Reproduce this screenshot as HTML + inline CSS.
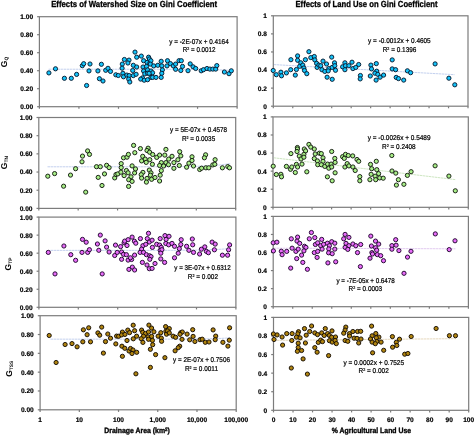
<!DOCTYPE html>
<html><head><meta charset="utf-8"><style>
html,body{margin:0;padding:0;background:#fff;width:475px;height:435px;overflow:hidden}
svg{display:block;will-change:transform}
text{font-family:"Liberation Sans", sans-serif;text-rendering:geometricPrecision}
</style></head><body>
<svg width="475" height="435" viewBox="0 0 475 435">
<rect x="39.4" y="16.7" width="197.70" height="90.00" fill="none" stroke="#7c7c7c" stroke-width="1.2"/>
<line x1="37.1" y1="16.70" x2="39.4" y2="16.70" stroke="#7c7c7c" stroke-width="1.2"/>
<line x1="37.1" y1="34.70" x2="39.4" y2="34.70" stroke="#7c7c7c" stroke-width="1.2"/>
<line x1="37.1" y1="52.70" x2="39.4" y2="52.70" stroke="#7c7c7c" stroke-width="1.2"/>
<line x1="37.1" y1="70.70" x2="39.4" y2="70.70" stroke="#7c7c7c" stroke-width="1.2"/>
<line x1="37.1" y1="88.70" x2="39.4" y2="88.70" stroke="#7c7c7c" stroke-width="1.2"/>
<line x1="37.1" y1="106.70" x2="39.4" y2="106.70" stroke="#7c7c7c" stroke-width="1.2"/>
<line x1="39.40" y1="106.7" x2="39.40" y2="108.8" stroke="#7c7c7c" stroke-width="1.2"/>
<line x1="78.94" y1="106.7" x2="78.94" y2="108.8" stroke="#7c7c7c" stroke-width="1.2"/>
<line x1="118.48" y1="106.7" x2="118.48" y2="108.8" stroke="#7c7c7c" stroke-width="1.2"/>
<line x1="158.02" y1="106.7" x2="158.02" y2="108.8" stroke="#7c7c7c" stroke-width="1.2"/>
<line x1="197.56" y1="106.7" x2="197.56" y2="108.8" stroke="#7c7c7c" stroke-width="1.2"/>
<line x1="237.10" y1="106.7" x2="237.10" y2="108.8" stroke="#7c7c7c" stroke-width="1.2"/>
<text x="33.10" y="19.10" text-anchor="end" font-size="6.6" font-weight="bold" stroke="#000" stroke-width="0.2">1.00</text>
<text x="33.10" y="37.10" text-anchor="end" font-size="6.6" font-weight="bold" stroke="#000" stroke-width="0.2">0.80</text>
<text x="33.10" y="55.10" text-anchor="end" font-size="6.6" font-weight="bold" stroke="#000" stroke-width="0.2">0.60</text>
<text x="33.10" y="73.10" text-anchor="end" font-size="6.6" font-weight="bold" stroke="#000" stroke-width="0.2">0.40</text>
<text x="33.10" y="91.10" text-anchor="end" font-size="6.6" font-weight="bold" stroke="#000" stroke-width="0.2">0.20</text>
<text x="33.10" y="109.10" text-anchor="end" font-size="6.6" font-weight="bold" stroke="#000" stroke-width="0.2">0.00</text>
<rect x="38.8" y="117.5" width="196.90" height="90.90" fill="none" stroke="#7c7c7c" stroke-width="1.2"/>
<line x1="36.5" y1="117.50" x2="38.8" y2="117.50" stroke="#7c7c7c" stroke-width="1.2"/>
<line x1="36.5" y1="135.68" x2="38.8" y2="135.68" stroke="#7c7c7c" stroke-width="1.2"/>
<line x1="36.5" y1="153.86" x2="38.8" y2="153.86" stroke="#7c7c7c" stroke-width="1.2"/>
<line x1="36.5" y1="172.04" x2="38.8" y2="172.04" stroke="#7c7c7c" stroke-width="1.2"/>
<line x1="36.5" y1="190.22" x2="38.8" y2="190.22" stroke="#7c7c7c" stroke-width="1.2"/>
<line x1="36.5" y1="208.40" x2="38.8" y2="208.40" stroke="#7c7c7c" stroke-width="1.2"/>
<line x1="38.80" y1="208.4" x2="38.80" y2="210.5" stroke="#7c7c7c" stroke-width="1.2"/>
<line x1="78.18" y1="208.4" x2="78.18" y2="210.5" stroke="#7c7c7c" stroke-width="1.2"/>
<line x1="117.56" y1="208.4" x2="117.56" y2="210.5" stroke="#7c7c7c" stroke-width="1.2"/>
<line x1="156.94" y1="208.4" x2="156.94" y2="210.5" stroke="#7c7c7c" stroke-width="1.2"/>
<line x1="196.32" y1="208.4" x2="196.32" y2="210.5" stroke="#7c7c7c" stroke-width="1.2"/>
<line x1="235.70" y1="208.4" x2="235.70" y2="210.5" stroke="#7c7c7c" stroke-width="1.2"/>
<text x="32.50" y="119.90" text-anchor="end" font-size="6.6" font-weight="bold" stroke="#000" stroke-width="0.2">1.00</text>
<text x="32.50" y="138.08" text-anchor="end" font-size="6.6" font-weight="bold" stroke="#000" stroke-width="0.2">0.80</text>
<text x="32.50" y="156.26" text-anchor="end" font-size="6.6" font-weight="bold" stroke="#000" stroke-width="0.2">0.60</text>
<text x="32.50" y="174.44" text-anchor="end" font-size="6.6" font-weight="bold" stroke="#000" stroke-width="0.2">0.40</text>
<text x="32.50" y="192.62" text-anchor="end" font-size="6.6" font-weight="bold" stroke="#000" stroke-width="0.2">0.20</text>
<text x="32.50" y="210.80" text-anchor="end" font-size="6.6" font-weight="bold" stroke="#000" stroke-width="0.2">0.00</text>
<rect x="38.9" y="217.1" width="197.00" height="90.20" fill="none" stroke="#7c7c7c" stroke-width="1.2"/>
<line x1="36.6" y1="217.10" x2="38.9" y2="217.10" stroke="#7c7c7c" stroke-width="1.2"/>
<line x1="36.6" y1="235.14" x2="38.9" y2="235.14" stroke="#7c7c7c" stroke-width="1.2"/>
<line x1="36.6" y1="253.18" x2="38.9" y2="253.18" stroke="#7c7c7c" stroke-width="1.2"/>
<line x1="36.6" y1="271.22" x2="38.9" y2="271.22" stroke="#7c7c7c" stroke-width="1.2"/>
<line x1="36.6" y1="289.26" x2="38.9" y2="289.26" stroke="#7c7c7c" stroke-width="1.2"/>
<line x1="36.6" y1="307.30" x2="38.9" y2="307.30" stroke="#7c7c7c" stroke-width="1.2"/>
<line x1="38.90" y1="307.3" x2="38.90" y2="309.40000000000003" stroke="#7c7c7c" stroke-width="1.2"/>
<line x1="78.30" y1="307.3" x2="78.30" y2="309.40000000000003" stroke="#7c7c7c" stroke-width="1.2"/>
<line x1="117.70" y1="307.3" x2="117.70" y2="309.40000000000003" stroke="#7c7c7c" stroke-width="1.2"/>
<line x1="157.10" y1="307.3" x2="157.10" y2="309.40000000000003" stroke="#7c7c7c" stroke-width="1.2"/>
<line x1="196.50" y1="307.3" x2="196.50" y2="309.40000000000003" stroke="#7c7c7c" stroke-width="1.2"/>
<line x1="235.90" y1="307.3" x2="235.90" y2="309.40000000000003" stroke="#7c7c7c" stroke-width="1.2"/>
<text x="32.60" y="219.50" text-anchor="end" font-size="6.6" font-weight="bold" stroke="#000" stroke-width="0.2">1.00</text>
<text x="32.60" y="237.54" text-anchor="end" font-size="6.6" font-weight="bold" stroke="#000" stroke-width="0.2">0.80</text>
<text x="32.60" y="255.58" text-anchor="end" font-size="6.6" font-weight="bold" stroke="#000" stroke-width="0.2">0.60</text>
<text x="32.60" y="273.62" text-anchor="end" font-size="6.6" font-weight="bold" stroke="#000" stroke-width="0.2">0.40</text>
<text x="32.60" y="291.66" text-anchor="end" font-size="6.6" font-weight="bold" stroke="#000" stroke-width="0.2">0.20</text>
<text x="32.60" y="309.70" text-anchor="end" font-size="6.6" font-weight="bold" stroke="#000" stroke-width="0.2">0.00</text>
<rect x="40.1" y="315.7" width="196.10" height="94.10" fill="none" stroke="#7c7c7c" stroke-width="1.2"/>
<line x1="37.800000000000004" y1="315.70" x2="40.1" y2="315.70" stroke="#7c7c7c" stroke-width="1.2"/>
<line x1="37.800000000000004" y1="334.52" x2="40.1" y2="334.52" stroke="#7c7c7c" stroke-width="1.2"/>
<line x1="37.800000000000004" y1="353.34" x2="40.1" y2="353.34" stroke="#7c7c7c" stroke-width="1.2"/>
<line x1="37.800000000000004" y1="372.16" x2="40.1" y2="372.16" stroke="#7c7c7c" stroke-width="1.2"/>
<line x1="37.800000000000004" y1="390.98" x2="40.1" y2="390.98" stroke="#7c7c7c" stroke-width="1.2"/>
<line x1="37.800000000000004" y1="409.80" x2="40.1" y2="409.80" stroke="#7c7c7c" stroke-width="1.2"/>
<line x1="40.10" y1="409.8" x2="40.10" y2="411.90000000000003" stroke="#7c7c7c" stroke-width="1.2"/>
<line x1="79.32" y1="409.8" x2="79.32" y2="411.90000000000003" stroke="#7c7c7c" stroke-width="1.2"/>
<line x1="118.54" y1="409.8" x2="118.54" y2="411.90000000000003" stroke="#7c7c7c" stroke-width="1.2"/>
<line x1="157.76" y1="409.8" x2="157.76" y2="411.90000000000003" stroke="#7c7c7c" stroke-width="1.2"/>
<line x1="196.98" y1="409.8" x2="196.98" y2="411.90000000000003" stroke="#7c7c7c" stroke-width="1.2"/>
<line x1="236.20" y1="409.8" x2="236.20" y2="411.90000000000003" stroke="#7c7c7c" stroke-width="1.2"/>
<text x="33.80" y="318.10" text-anchor="end" font-size="6.6" font-weight="bold" stroke="#000" stroke-width="0.2">1.00</text>
<text x="33.80" y="336.92" text-anchor="end" font-size="6.6" font-weight="bold" stroke="#000" stroke-width="0.2">0.80</text>
<text x="33.80" y="355.74" text-anchor="end" font-size="6.6" font-weight="bold" stroke="#000" stroke-width="0.2">0.60</text>
<text x="33.80" y="374.56" text-anchor="end" font-size="6.6" font-weight="bold" stroke="#000" stroke-width="0.2">0.40</text>
<text x="33.80" y="393.38" text-anchor="end" font-size="6.6" font-weight="bold" stroke="#000" stroke-width="0.2">0.20</text>
<text x="33.80" y="412.20" text-anchor="end" font-size="6.6" font-weight="bold" stroke="#000" stroke-width="0.2">0.00</text>
<rect x="273.3" y="15.8" width="194.70" height="90.40" fill="none" stroke="#7c7c7c" stroke-width="1.2"/>
<line x1="271.0" y1="15.80" x2="273.3" y2="15.80" stroke="#7c7c7c" stroke-width="1.2"/>
<line x1="271.0" y1="33.88" x2="273.3" y2="33.88" stroke="#7c7c7c" stroke-width="1.2"/>
<line x1="271.0" y1="51.96" x2="273.3" y2="51.96" stroke="#7c7c7c" stroke-width="1.2"/>
<line x1="271.0" y1="70.04" x2="273.3" y2="70.04" stroke="#7c7c7c" stroke-width="1.2"/>
<line x1="271.0" y1="88.12" x2="273.3" y2="88.12" stroke="#7c7c7c" stroke-width="1.2"/>
<line x1="271.0" y1="106.20" x2="273.3" y2="106.20" stroke="#7c7c7c" stroke-width="1.2"/>
<line x1="273.30" y1="106.2" x2="273.30" y2="108.3" stroke="#7c7c7c" stroke-width="1.2"/>
<line x1="292.77" y1="106.2" x2="292.77" y2="108.3" stroke="#7c7c7c" stroke-width="1.2"/>
<line x1="312.24" y1="106.2" x2="312.24" y2="108.3" stroke="#7c7c7c" stroke-width="1.2"/>
<line x1="331.71" y1="106.2" x2="331.71" y2="108.3" stroke="#7c7c7c" stroke-width="1.2"/>
<line x1="351.18" y1="106.2" x2="351.18" y2="108.3" stroke="#7c7c7c" stroke-width="1.2"/>
<line x1="370.65" y1="106.2" x2="370.65" y2="108.3" stroke="#7c7c7c" stroke-width="1.2"/>
<line x1="390.12" y1="106.2" x2="390.12" y2="108.3" stroke="#7c7c7c" stroke-width="1.2"/>
<line x1="409.59" y1="106.2" x2="409.59" y2="108.3" stroke="#7c7c7c" stroke-width="1.2"/>
<line x1="429.06" y1="106.2" x2="429.06" y2="108.3" stroke="#7c7c7c" stroke-width="1.2"/>
<line x1="448.53" y1="106.2" x2="448.53" y2="108.3" stroke="#7c7c7c" stroke-width="1.2"/>
<line x1="468.00" y1="106.2" x2="468.00" y2="108.3" stroke="#7c7c7c" stroke-width="1.2"/>
<text x="267.00" y="18.20" text-anchor="end" font-size="6.6" font-weight="bold" stroke="#000" stroke-width="0.2">1</text>
<text x="267.00" y="36.28" text-anchor="end" font-size="6.6" font-weight="bold" stroke="#000" stroke-width="0.2">0.8</text>
<text x="267.00" y="54.36" text-anchor="end" font-size="6.6" font-weight="bold" stroke="#000" stroke-width="0.2">0.6</text>
<text x="267.00" y="72.44" text-anchor="end" font-size="6.6" font-weight="bold" stroke="#000" stroke-width="0.2">0.4</text>
<text x="267.00" y="90.52" text-anchor="end" font-size="6.6" font-weight="bold" stroke="#000" stroke-width="0.2">0.2</text>
<text x="267.00" y="108.60" text-anchor="end" font-size="6.6" font-weight="bold" stroke="#000" stroke-width="0.2">0</text>
<rect x="273.0" y="116.9" width="195.30" height="90.40" fill="none" stroke="#7c7c7c" stroke-width="1.2"/>
<line x1="270.7" y1="116.90" x2="273.0" y2="116.90" stroke="#7c7c7c" stroke-width="1.2"/>
<line x1="270.7" y1="134.98" x2="273.0" y2="134.98" stroke="#7c7c7c" stroke-width="1.2"/>
<line x1="270.7" y1="153.06" x2="273.0" y2="153.06" stroke="#7c7c7c" stroke-width="1.2"/>
<line x1="270.7" y1="171.14" x2="273.0" y2="171.14" stroke="#7c7c7c" stroke-width="1.2"/>
<line x1="270.7" y1="189.22" x2="273.0" y2="189.22" stroke="#7c7c7c" stroke-width="1.2"/>
<line x1="270.7" y1="207.30" x2="273.0" y2="207.30" stroke="#7c7c7c" stroke-width="1.2"/>
<line x1="273.00" y1="207.3" x2="273.00" y2="209.4" stroke="#7c7c7c" stroke-width="1.2"/>
<line x1="292.53" y1="207.3" x2="292.53" y2="209.4" stroke="#7c7c7c" stroke-width="1.2"/>
<line x1="312.06" y1="207.3" x2="312.06" y2="209.4" stroke="#7c7c7c" stroke-width="1.2"/>
<line x1="331.59" y1="207.3" x2="331.59" y2="209.4" stroke="#7c7c7c" stroke-width="1.2"/>
<line x1="351.12" y1="207.3" x2="351.12" y2="209.4" stroke="#7c7c7c" stroke-width="1.2"/>
<line x1="370.65" y1="207.3" x2="370.65" y2="209.4" stroke="#7c7c7c" stroke-width="1.2"/>
<line x1="390.18" y1="207.3" x2="390.18" y2="209.4" stroke="#7c7c7c" stroke-width="1.2"/>
<line x1="409.71" y1="207.3" x2="409.71" y2="209.4" stroke="#7c7c7c" stroke-width="1.2"/>
<line x1="429.24" y1="207.3" x2="429.24" y2="209.4" stroke="#7c7c7c" stroke-width="1.2"/>
<line x1="448.77" y1="207.3" x2="448.77" y2="209.4" stroke="#7c7c7c" stroke-width="1.2"/>
<line x1="468.30" y1="207.3" x2="468.30" y2="209.4" stroke="#7c7c7c" stroke-width="1.2"/>
<text x="266.70" y="119.30" text-anchor="end" font-size="6.6" font-weight="bold" stroke="#000" stroke-width="0.2">1</text>
<text x="266.70" y="137.38" text-anchor="end" font-size="6.6" font-weight="bold" stroke="#000" stroke-width="0.2">0.8</text>
<text x="266.70" y="155.46" text-anchor="end" font-size="6.6" font-weight="bold" stroke="#000" stroke-width="0.2">0.6</text>
<text x="266.70" y="173.54" text-anchor="end" font-size="6.6" font-weight="bold" stroke="#000" stroke-width="0.2">0.4</text>
<text x="266.70" y="191.62" text-anchor="end" font-size="6.6" font-weight="bold" stroke="#000" stroke-width="0.2">0.2</text>
<text x="266.70" y="209.70" text-anchor="end" font-size="6.6" font-weight="bold" stroke="#000" stroke-width="0.2">0</text>
<rect x="273.2" y="216.4" width="195.20" height="90.30" fill="none" stroke="#7c7c7c" stroke-width="1.2"/>
<line x1="270.9" y1="216.40" x2="273.2" y2="216.40" stroke="#7c7c7c" stroke-width="1.2"/>
<line x1="270.9" y1="234.46" x2="273.2" y2="234.46" stroke="#7c7c7c" stroke-width="1.2"/>
<line x1="270.9" y1="252.52" x2="273.2" y2="252.52" stroke="#7c7c7c" stroke-width="1.2"/>
<line x1="270.9" y1="270.58" x2="273.2" y2="270.58" stroke="#7c7c7c" stroke-width="1.2"/>
<line x1="270.9" y1="288.64" x2="273.2" y2="288.64" stroke="#7c7c7c" stroke-width="1.2"/>
<line x1="270.9" y1="306.70" x2="273.2" y2="306.70" stroke="#7c7c7c" stroke-width="1.2"/>
<line x1="273.20" y1="306.7" x2="273.20" y2="308.8" stroke="#7c7c7c" stroke-width="1.2"/>
<line x1="292.72" y1="306.7" x2="292.72" y2="308.8" stroke="#7c7c7c" stroke-width="1.2"/>
<line x1="312.24" y1="306.7" x2="312.24" y2="308.8" stroke="#7c7c7c" stroke-width="1.2"/>
<line x1="331.76" y1="306.7" x2="331.76" y2="308.8" stroke="#7c7c7c" stroke-width="1.2"/>
<line x1="351.28" y1="306.7" x2="351.28" y2="308.8" stroke="#7c7c7c" stroke-width="1.2"/>
<line x1="370.80" y1="306.7" x2="370.80" y2="308.8" stroke="#7c7c7c" stroke-width="1.2"/>
<line x1="390.32" y1="306.7" x2="390.32" y2="308.8" stroke="#7c7c7c" stroke-width="1.2"/>
<line x1="409.84" y1="306.7" x2="409.84" y2="308.8" stroke="#7c7c7c" stroke-width="1.2"/>
<line x1="429.36" y1="306.7" x2="429.36" y2="308.8" stroke="#7c7c7c" stroke-width="1.2"/>
<line x1="448.88" y1="306.7" x2="448.88" y2="308.8" stroke="#7c7c7c" stroke-width="1.2"/>
<line x1="468.40" y1="306.7" x2="468.40" y2="308.8" stroke="#7c7c7c" stroke-width="1.2"/>
<text x="266.90" y="218.80" text-anchor="end" font-size="6.6" font-weight="bold" stroke="#000" stroke-width="0.2">1</text>
<text x="266.90" y="236.86" text-anchor="end" font-size="6.6" font-weight="bold" stroke="#000" stroke-width="0.2">0.8</text>
<text x="266.90" y="254.92" text-anchor="end" font-size="6.6" font-weight="bold" stroke="#000" stroke-width="0.2">0.6</text>
<text x="266.90" y="272.98" text-anchor="end" font-size="6.6" font-weight="bold" stroke="#000" stroke-width="0.2">0.4</text>
<text x="266.90" y="291.04" text-anchor="end" font-size="6.6" font-weight="bold" stroke="#000" stroke-width="0.2">0.2</text>
<text x="266.90" y="309.10" text-anchor="end" font-size="6.6" font-weight="bold" stroke="#000" stroke-width="0.2">0</text>
<rect x="273.5" y="317.4" width="195.20" height="92.90" fill="none" stroke="#7c7c7c" stroke-width="1.2"/>
<line x1="271.2" y1="317.40" x2="273.5" y2="317.40" stroke="#7c7c7c" stroke-width="1.2"/>
<line x1="271.2" y1="335.98" x2="273.5" y2="335.98" stroke="#7c7c7c" stroke-width="1.2"/>
<line x1="271.2" y1="354.56" x2="273.5" y2="354.56" stroke="#7c7c7c" stroke-width="1.2"/>
<line x1="271.2" y1="373.14" x2="273.5" y2="373.14" stroke="#7c7c7c" stroke-width="1.2"/>
<line x1="271.2" y1="391.72" x2="273.5" y2="391.72" stroke="#7c7c7c" stroke-width="1.2"/>
<line x1="271.2" y1="410.30" x2="273.5" y2="410.30" stroke="#7c7c7c" stroke-width="1.2"/>
<line x1="273.50" y1="410.3" x2="273.50" y2="412.40000000000003" stroke="#7c7c7c" stroke-width="1.2"/>
<line x1="293.02" y1="410.3" x2="293.02" y2="412.40000000000003" stroke="#7c7c7c" stroke-width="1.2"/>
<line x1="312.54" y1="410.3" x2="312.54" y2="412.40000000000003" stroke="#7c7c7c" stroke-width="1.2"/>
<line x1="332.06" y1="410.3" x2="332.06" y2="412.40000000000003" stroke="#7c7c7c" stroke-width="1.2"/>
<line x1="351.58" y1="410.3" x2="351.58" y2="412.40000000000003" stroke="#7c7c7c" stroke-width="1.2"/>
<line x1="371.10" y1="410.3" x2="371.10" y2="412.40000000000003" stroke="#7c7c7c" stroke-width="1.2"/>
<line x1="390.62" y1="410.3" x2="390.62" y2="412.40000000000003" stroke="#7c7c7c" stroke-width="1.2"/>
<line x1="410.14" y1="410.3" x2="410.14" y2="412.40000000000003" stroke="#7c7c7c" stroke-width="1.2"/>
<line x1="429.66" y1="410.3" x2="429.66" y2="412.40000000000003" stroke="#7c7c7c" stroke-width="1.2"/>
<line x1="449.18" y1="410.3" x2="449.18" y2="412.40000000000003" stroke="#7c7c7c" stroke-width="1.2"/>
<line x1="468.70" y1="410.3" x2="468.70" y2="412.40000000000003" stroke="#7c7c7c" stroke-width="1.2"/>
<text x="267.20" y="319.80" text-anchor="end" font-size="6.6" font-weight="bold" stroke="#000" stroke-width="0.2">1</text>
<text x="267.20" y="338.38" text-anchor="end" font-size="6.6" font-weight="bold" stroke="#000" stroke-width="0.2">0.8</text>
<text x="267.20" y="356.96" text-anchor="end" font-size="6.6" font-weight="bold" stroke="#000" stroke-width="0.2">0.6</text>
<text x="267.20" y="375.54" text-anchor="end" font-size="6.6" font-weight="bold" stroke="#000" stroke-width="0.2">0.4</text>
<text x="267.20" y="394.12" text-anchor="end" font-size="6.6" font-weight="bold" stroke="#000" stroke-width="0.2">0.2</text>
<text x="267.20" y="412.70" text-anchor="end" font-size="6.6" font-weight="bold" stroke="#000" stroke-width="0.2">0</text>
<text x="40.10" y="421.7" text-anchor="middle" font-size="6.6" font-weight="bold" stroke="#000" stroke-width="0.2">1</text>
<text x="79.32" y="421.7" text-anchor="middle" font-size="6.6" font-weight="bold" stroke="#000" stroke-width="0.2">10</text>
<text x="118.54" y="421.7" text-anchor="middle" font-size="6.6" font-weight="bold" stroke="#000" stroke-width="0.2">100</text>
<text x="157.76" y="421.7" text-anchor="middle" font-size="6.6" font-weight="bold" stroke="#000" stroke-width="0.2">1,000</text>
<text x="196.98" y="421.7" text-anchor="middle" font-size="6.6" font-weight="bold" stroke="#000" stroke-width="0.2">10,000</text>
<text x="236.20" y="421.7" text-anchor="middle" font-size="6.6" font-weight="bold" stroke="#000" stroke-width="0.2">100,000</text>
<text x="273.50" y="421.7" text-anchor="middle" font-size="6.6" font-weight="bold" stroke="#000" stroke-width="0.2">0</text>
<text x="293.02" y="421.7" text-anchor="middle" font-size="6.6" font-weight="bold" stroke="#000" stroke-width="0.2">10</text>
<text x="312.54" y="421.7" text-anchor="middle" font-size="6.6" font-weight="bold" stroke="#000" stroke-width="0.2">20</text>
<text x="332.06" y="421.7" text-anchor="middle" font-size="6.6" font-weight="bold" stroke="#000" stroke-width="0.2">30</text>
<text x="351.58" y="421.7" text-anchor="middle" font-size="6.6" font-weight="bold" stroke="#000" stroke-width="0.2">40</text>
<text x="371.10" y="421.7" text-anchor="middle" font-size="6.6" font-weight="bold" stroke="#000" stroke-width="0.2">50</text>
<text x="390.62" y="421.7" text-anchor="middle" font-size="6.6" font-weight="bold" stroke="#000" stroke-width="0.2">60</text>
<text x="410.14" y="421.7" text-anchor="middle" font-size="6.6" font-weight="bold" stroke="#000" stroke-width="0.2">70</text>
<text x="429.66" y="421.7" text-anchor="middle" font-size="6.6" font-weight="bold" stroke="#000" stroke-width="0.2">80</text>
<text x="449.18" y="421.7" text-anchor="middle" font-size="6.6" font-weight="bold" stroke="#000" stroke-width="0.2">90</text>
<text x="468.70" y="421.7" text-anchor="middle" font-size="6.6" font-weight="bold" stroke="#000" stroke-width="0.2">100</text>
<text x="51.2" y="7.1" font-size="8.8" stroke="#000" stroke-width="0.3" font-weight="bold" textLength="166" lengthAdjust="spacingAndGlyphs">Effects of Watershed Size on Gini Coefficient</text>
<text x="295.5" y="6.5" font-size="8.8" stroke="#000" stroke-width="0.3" font-weight="bold" textLength="142" lengthAdjust="spacingAndGlyphs">Effects of Land Use on Gini Coefficient</text>
<text x="104.3" y="433.1" font-size="7.6" font-weight="bold" stroke="#000" stroke-width="0.35" textLength="65.6" lengthAdjust="spacingAndGlyphs">Drainage Area (km<tspan font-size="5" dy="-2.5">2</tspan><tspan dy="2.5">)</tspan></text>
<text x="331.8" y="433" font-size="7.6" font-weight="bold" stroke="#000" stroke-width="0.35" textLength="79.3" lengthAdjust="spacingAndGlyphs">% Agricultural Land Use</text>
<text transform="translate(7.0,62.0) rotate(-90)" text-anchor="middle" font-size="8.5" font-weight="bold">G<tspan font-size="4.9" dy="1.0">Q</tspan></text>
<text transform="translate(7.0,162.6) rotate(-90)" text-anchor="middle" font-size="8.5" font-weight="bold">G<tspan font-size="4.9" dy="1.0">TN</tspan></text>
<text transform="translate(10.6,264.0) rotate(-90)" text-anchor="middle" font-size="8.5" font-weight="bold">G<tspan font-size="4.9" dy="1.0">TP</tspan></text>
<text transform="translate(12.4,368.8) rotate(-90)" text-anchor="middle" font-size="8.5" font-weight="bold">G<tspan font-size="4.9" dy="1.0">TSS</tspan></text>
<text x="169.3" y="43.6" font-size="7" textLength="59.4" lengthAdjust="spacingAndGlyphs" fill="#000" stroke="#000" stroke-width="0.22">y = -2E-07x + 0.4164</text>
<text x="182.7" y="52.3" font-size="7" textLength="32.9" lengthAdjust="spacingAndGlyphs" fill="#000" stroke="#000" stroke-width="0.22">R<tspan font-size="4" dy="-2">2</tspan><tspan dy="2"> = 0.0012</tspan></text>
<text x="368.1" y="43.3" font-size="7" textLength="62.6" lengthAdjust="spacingAndGlyphs" fill="#000" stroke="#000" stroke-width="0.22">y = -0.0012x + 0.4605</text>
<text x="382.7" y="52.0" font-size="7" textLength="33.7" lengthAdjust="spacingAndGlyphs" fill="#000" stroke="#000" stroke-width="0.22">R<tspan font-size="4" dy="-2">2</tspan><tspan dy="2"> = 0.1396</tspan></text>
<text x="170.1" y="132.0" font-size="7" textLength="56.9" lengthAdjust="spacingAndGlyphs" fill="#000" stroke="#000" stroke-width="0.22">y = 5E-07x + 0.4578</text>
<text x="181.9" y="140.5" font-size="7" textLength="33.3" lengthAdjust="spacingAndGlyphs" fill="#000" stroke="#000" stroke-width="0.22">R<tspan font-size="4" dy="-2">2</tspan><tspan dy="2"> = 0.0035</tspan></text>
<text x="367.7" y="140.3" font-size="7" textLength="62.8" lengthAdjust="spacingAndGlyphs" fill="#000" stroke="#000" stroke-width="0.22">y = -0.0026x + 0.5489</text>
<text x="382.0" y="148.8" font-size="7" textLength="33.7" lengthAdjust="spacingAndGlyphs" fill="#000" stroke="#000" stroke-width="0.22">R<tspan font-size="4" dy="-2">2</tspan><tspan dy="2"> = 0.2408</tspan></text>
<text x="174.3" y="270.3" font-size="7" textLength="56.4" lengthAdjust="spacingAndGlyphs" fill="#000" stroke="#000" stroke-width="0.22">y = 3E-07x + 0.6312</text>
<text x="187.8" y="278.6" font-size="7" textLength="30.2" lengthAdjust="spacingAndGlyphs" fill="#000" stroke="#000" stroke-width="0.22">R<tspan font-size="4" dy="-2">2</tspan><tspan dy="2"> = 0.002</tspan></text>
<text x="336.4" y="282.8" font-size="7" textLength="58.4" lengthAdjust="spacingAndGlyphs" fill="#000" stroke="#000" stroke-width="0.22">y = -7E-05x + 0.6478</text>
<text x="348.5" y="291.3" font-size="7" textLength="33.7" lengthAdjust="spacingAndGlyphs" fill="#000" stroke="#000" stroke-width="0.22">R<tspan font-size="4" dy="-2">2</tspan><tspan dy="2"> = 0.0003</tspan></text>
<text x="173.1" y="361.9" font-size="7" textLength="56.8" lengthAdjust="spacingAndGlyphs" fill="#000" stroke="#000" stroke-width="0.22">y = 2E-07x + 0.7506</text>
<text x="184.9" y="370.5" font-size="7" textLength="33.1" lengthAdjust="spacingAndGlyphs" fill="#000" stroke="#000" stroke-width="0.22">R<tspan font-size="4" dy="-2">2</tspan><tspan dy="2"> = 0.0011</tspan></text>
<text x="343.4" y="364.5" font-size="7" textLength="60.6" lengthAdjust="spacingAndGlyphs" fill="#000" stroke="#000" stroke-width="0.22">y = 0.0002x + 0.7525</text>
<text x="358.5" y="372.5" font-size="7" textLength="30.3" lengthAdjust="spacingAndGlyphs" fill="#000" stroke="#000" stroke-width="0.22">R<tspan font-size="4" dy="-2">2</tspan><tspan dy="2"> = 0.002</tspan></text>
<polyline points="48.60,69.22 53.17,69.22 57.75,69.22 62.32,69.22 66.89,69.22 71.46,69.22 76.03,69.22 80.61,69.22 85.18,69.22 89.75,69.22 94.33,69.22 98.90,69.22 103.47,69.22 108.04,69.22 112.62,69.23 117.19,69.23 121.76,69.23 126.33,69.23 130.91,69.23 135.48,69.23 140.05,69.23 144.62,69.23 149.19,69.23 153.77,69.24 158.34,69.24 162.91,69.25 167.49,69.26 172.06,69.26 176.63,69.28 181.20,69.29 185.78,69.31 190.35,69.34 194.92,69.38 199.49,69.43 204.06,69.49 208.64,69.57 213.21,69.67 217.78,69.81 222.35,69.99 226.93,70.22 231.50,70.52" fill="none" stroke="#a4b8e4" stroke-width="0.65" stroke-dasharray="2.5 0.5"/>
<line x1="274.0" y1="64.61" x2="454.5" y2="74.67" stroke="#a4b8e4" stroke-width="0.65" stroke-dasharray="2.5 0.5"/>
<polyline points="47.50,166.79 52.08,166.79 56.65,166.79 61.23,166.79 65.80,166.79 70.38,166.79 74.95,166.79 79.53,166.79 84.10,166.79 88.67,166.79 93.25,166.78 97.83,166.78 102.40,166.78 106.97,166.78 111.55,166.78 116.12,166.78 120.70,166.78 125.28,166.78 129.85,166.78 134.43,166.77 139.00,166.77 143.57,166.77 148.15,166.76 152.72,166.75 157.30,166.74 161.88,166.73 166.45,166.71 171.03,166.68 175.60,166.65 180.18,166.61 184.75,166.55 189.32,166.48 193.90,166.39 198.47,166.27 203.05,166.11 207.62,165.91 212.20,165.64 216.78,165.28 221.35,164.82 225.93,164.22 230.50,163.43" fill="none" stroke="#a4b8e4" stroke-width="0.65" stroke-dasharray="2.5 0.5"/>
<line x1="274.0" y1="157.80" x2="455.5" y2="179.64" stroke="#b4d8a0" stroke-width="0.65" stroke-dasharray="2.5 0.5"/>
<polyline points="50.50,250.37 54.99,250.37 59.48,250.37 63.96,250.37 68.45,250.37 72.94,250.37 77.42,250.37 81.91,250.37 86.40,250.37 90.89,250.37 95.38,250.37 99.86,250.36 104.35,250.36 108.84,250.36 113.33,250.36 117.81,250.36 122.30,250.36 126.79,250.36 131.28,250.36 135.76,250.36 140.25,250.36 144.74,250.35 149.22,250.35 153.71,250.34 158.20,250.34 162.69,250.33 167.18,250.32 171.66,250.30 176.15,250.28 180.64,250.26 185.12,250.23 189.61,250.18 194.10,250.13 198.59,250.06 203.07,249.97 207.56,249.85 212.05,249.69 216.54,249.49 221.03,249.23 225.51,248.89 230.00,248.45" fill="none" stroke="#a4b8e4" stroke-width="0.65" stroke-dasharray="2.5 0.5"/>
<line x1="274.0" y1="248.21" x2="455.4" y2="248.79" stroke="#d2aee8" stroke-width="0.65" stroke-dasharray="2.5 0.5"/>
<polyline points="50.50,339.17 54.99,339.17 59.48,339.17 63.96,339.17 68.45,339.17 72.94,339.17 77.42,339.17 81.91,339.17 86.40,339.17 90.89,339.17 95.38,339.17 99.86,339.17 104.35,339.17 108.84,339.17 113.33,339.17 117.81,339.17 122.30,339.17 126.79,339.17 131.28,339.16 135.76,339.16 140.25,339.16 144.74,339.16 149.22,339.16 153.71,339.15 158.20,339.15 162.69,339.14 167.18,339.14 171.66,339.13 176.15,339.11 180.64,339.10 185.12,339.07 189.61,339.05 194.10,339.01 198.59,338.96 203.07,338.90 207.56,338.82 212.05,338.71 216.54,338.58 221.03,338.40 225.51,338.16 230.00,337.86" fill="none" stroke="#a4b8e4" stroke-width="0.65" stroke-dasharray="2.5 0.5"/>
<line x1="274.0" y1="340.39" x2="456.0" y2="338.66" stroke="#d8c49a" stroke-width="0.65" stroke-dasharray="2.5 0.5"/>
<g fill="#14c4fa" stroke="#061a30" stroke-width="0.95">
<circle cx="48.9" cy="72.9" r="2.1"/>
<circle cx="55.5" cy="68.8" r="2.1"/>
<circle cx="64.4" cy="78.3" r="2.1"/>
<circle cx="71.3" cy="78.3" r="2.1"/>
<circle cx="76.6" cy="74.4" r="2.1"/>
<circle cx="82.3" cy="65.7" r="2.1"/>
<circle cx="83.7" cy="63.7" r="2.1"/>
<circle cx="86.6" cy="85.5" r="2.1"/>
<circle cx="89.0" cy="70.9" r="2.1"/>
<circle cx="90.0" cy="64.0" r="2.1"/>
<circle cx="97.9" cy="70.9" r="2.1"/>
<circle cx="101.4" cy="64.3" r="2.1"/>
<circle cx="99.4" cy="78.7" r="2.1"/>
<circle cx="103.0" cy="81.0" r="2.1"/>
<circle cx="105.7" cy="70.3" r="2.1"/>
<circle cx="108.0" cy="68.3" r="2.1"/>
<circle cx="110.5" cy="71.4" r="2.1"/>
<circle cx="115.8" cy="74.8" r="2.1"/>
<circle cx="118.3" cy="75.5" r="2.1"/>
<circle cx="122.3" cy="64.1" r="2.1"/>
<circle cx="122.1" cy="68.2" r="2.1"/>
<circle cx="124.4" cy="59.5" r="2.1"/>
<circle cx="129.0" cy="60.1" r="2.1"/>
<circle cx="127.9" cy="63.0" r="2.1"/>
<circle cx="122.9" cy="73.3" r="2.1"/>
<circle cx="123.5" cy="76.8" r="2.1"/>
<circle cx="126.9" cy="75.1" r="2.1"/>
<circle cx="129.2" cy="75.6" r="2.1"/>
<circle cx="128.7" cy="79.1" r="2.1"/>
<circle cx="129.8" cy="82.0" r="2.1"/>
<circle cx="133.3" cy="65.3" r="2.1"/>
<circle cx="136.7" cy="67.0" r="2.1"/>
<circle cx="132.7" cy="70.5" r="2.1"/>
<circle cx="133.3" cy="75.6" r="2.1"/>
<circle cx="136.1" cy="74.3" r="2.1"/>
<circle cx="135.0" cy="52.1" r="2.1"/>
<circle cx="136.7" cy="57.2" r="2.1"/>
<circle cx="141.3" cy="56.1" r="2.1"/>
<circle cx="143.6" cy="60.7" r="2.1"/>
<circle cx="148.6" cy="57.2" r="2.1"/>
<circle cx="149.4" cy="59.0" r="2.1"/>
<circle cx="147.1" cy="62.4" r="2.1"/>
<circle cx="149.9" cy="63.0" r="2.1"/>
<circle cx="143.0" cy="67.0" r="2.1"/>
<circle cx="146.5" cy="66.4" r="2.1"/>
<circle cx="143.6" cy="71.0" r="2.1"/>
<circle cx="147.6" cy="69.9" r="2.1"/>
<circle cx="151.0" cy="71.0" r="2.1"/>
<circle cx="144.8" cy="73.9" r="2.1"/>
<circle cx="147.6" cy="73.3" r="2.1"/>
<circle cx="142.5" cy="77.9" r="2.1"/>
<circle cx="140.7" cy="79.1" r="2.1"/>
<circle cx="144.2" cy="80.2" r="2.1"/>
<circle cx="147.6" cy="79.7" r="2.1"/>
<circle cx="151.0" cy="77.4" r="2.1"/>
<circle cx="150.9" cy="60.7" r="2.1"/>
<circle cx="150.3" cy="64.1" r="2.1"/>
<circle cx="153.7" cy="65.9" r="2.1"/>
<circle cx="157.8" cy="65.3" r="2.1"/>
<circle cx="161.2" cy="61.3" r="2.1"/>
<circle cx="161.8" cy="65.9" r="2.1"/>
<circle cx="162.4" cy="69.9" r="2.1"/>
<circle cx="161.8" cy="73.3" r="2.1"/>
<circle cx="161.2" cy="77.4" r="2.1"/>
<circle cx="167.5" cy="60.7" r="2.1"/>
<circle cx="167.0" cy="65.9" r="2.1"/>
<circle cx="170.4" cy="63.6" r="2.1"/>
<circle cx="173.3" cy="65.9" r="2.1"/>
<circle cx="175.6" cy="64.1" r="2.1"/>
<circle cx="175.6" cy="69.3" r="2.1"/>
<circle cx="179.0" cy="60.7" r="2.1"/>
<circle cx="181.3" cy="60.7" r="2.1"/>
<circle cx="182.5" cy="66.4" r="2.1"/>
<circle cx="180.8" cy="70.5" r="2.1"/>
<circle cx="152.6" cy="72.8" r="2.1"/>
<circle cx="149.1" cy="73.3" r="2.1"/>
<circle cx="152.6" cy="77.4" r="2.1"/>
<circle cx="156.0" cy="77.4" r="2.1"/>
<circle cx="188.0" cy="70.7" r="2.1"/>
<circle cx="190.2" cy="63.9" r="2.1"/>
<circle cx="193.1" cy="66.8" r="2.1"/>
<circle cx="195.7" cy="68.5" r="2.1"/>
<circle cx="201.2" cy="70.8" r="2.1"/>
<circle cx="203.5" cy="69.7" r="2.1"/>
<circle cx="207.0" cy="68.5" r="2.1"/>
<circle cx="209.9" cy="69.1" r="2.1"/>
<circle cx="212.8" cy="69.1" r="2.1"/>
<circle cx="215.7" cy="69.1" r="2.1"/>
<circle cx="216.8" cy="65.6" r="2.1"/>
<circle cx="224.4" cy="72.0" r="2.1"/>
<circle cx="229.0" cy="73.7" r="2.1"/>
<circle cx="231.3" cy="70.8" r="2.1"/>
</g>
<g fill="#a8ee88" stroke="#141c10" stroke-width="0.95">
<circle cx="47.8" cy="176.2" r="2.1"/>
<circle cx="54.6" cy="173.6" r="2.1"/>
<circle cx="63.6" cy="186.2" r="2.1"/>
<circle cx="70.5" cy="175.1" r="2.1"/>
<circle cx="75.6" cy="168.7" r="2.1"/>
<circle cx="82.0" cy="161.8" r="2.1"/>
<circle cx="82.5" cy="156.1" r="2.1"/>
<circle cx="87.6" cy="150.9" r="2.1"/>
<circle cx="89.5" cy="154.4" r="2.1"/>
<circle cx="85.7" cy="192.1" r="2.1"/>
<circle cx="96.5" cy="166.7" r="2.1"/>
<circle cx="100.3" cy="166.7" r="2.1"/>
<circle cx="106.6" cy="165.3" r="2.1"/>
<circle cx="109.1" cy="167.6" r="2.1"/>
<circle cx="98.2" cy="177.4" r="2.1"/>
<circle cx="104.5" cy="173.9" r="2.1"/>
<circle cx="102.0" cy="185.5" r="2.1"/>
<circle cx="114.7" cy="177.9" r="2.1"/>
<circle cx="116.0" cy="174.5" r="2.1"/>
<circle cx="117.8" cy="173.9" r="2.1"/>
<circle cx="121.2" cy="163.6" r="2.1"/>
<circle cx="121.2" cy="167.6" r="2.1"/>
<circle cx="120.9" cy="172.2" r="2.1"/>
<circle cx="123.5" cy="157.8" r="2.1"/>
<circle cx="127.0" cy="157.2" r="2.1"/>
<circle cx="128.4" cy="154.4" r="2.1"/>
<circle cx="124.1" cy="175.6" r="2.1"/>
<circle cx="126.4" cy="170.5" r="2.1"/>
<circle cx="128.1" cy="172.8" r="2.1"/>
<circle cx="131.0" cy="176.8" r="2.1"/>
<circle cx="128.7" cy="179.7" r="2.1"/>
<circle cx="132.1" cy="181.4" r="2.1"/>
<circle cx="128.6" cy="186.4" r="2.1"/>
<circle cx="132.1" cy="165.9" r="2.1"/>
<circle cx="133.6" cy="145.4" r="2.1"/>
<circle cx="134.8" cy="152.7" r="2.1"/>
<circle cx="134.6" cy="172.9" r="2.1"/>
<circle cx="140.4" cy="148.6" r="2.1"/>
<circle cx="148.1" cy="148.2" r="2.1"/>
<circle cx="147.0" cy="150.5" r="2.1"/>
<circle cx="149.6" cy="152.2" r="2.1"/>
<circle cx="152.7" cy="154.5" r="2.1"/>
<circle cx="142.7" cy="156.3" r="2.1"/>
<circle cx="145.2" cy="159.1" r="2.1"/>
<circle cx="141.6" cy="160.9" r="2.1"/>
<circle cx="146.2" cy="162.4" r="2.1"/>
<circle cx="149.8" cy="159.7" r="2.1"/>
<circle cx="152.4" cy="164.3" r="2.1"/>
<circle cx="156.7" cy="157.4" r="2.1"/>
<circle cx="159.6" cy="155.1" r="2.1"/>
<circle cx="164.8" cy="155.1" r="2.1"/>
<circle cx="165.9" cy="149.4" r="2.1"/>
<circle cx="161.3" cy="162.6" r="2.1"/>
<circle cx="165.9" cy="162.6" r="2.1"/>
<circle cx="159.6" cy="165.5" r="2.1"/>
<circle cx="163.6" cy="166.0" r="2.1"/>
<circle cx="135.5" cy="168.9" r="2.1"/>
<circle cx="142.9" cy="172.4" r="2.1"/>
<circle cx="141.2" cy="174.7" r="2.1"/>
<circle cx="149.3" cy="170.1" r="2.1"/>
<circle cx="151.0" cy="172.9" r="2.1"/>
<circle cx="150.4" cy="175.2" r="2.1"/>
<circle cx="141.6" cy="178.1" r="2.1"/>
<circle cx="147.0" cy="178.4" r="2.1"/>
<circle cx="151.6" cy="179.3" r="2.1"/>
<circle cx="155.0" cy="177.5" r="2.1"/>
<circle cx="160.2" cy="175.2" r="2.1"/>
<circle cx="161.3" cy="170.6" r="2.1"/>
<circle cx="159.6" cy="181.0" r="2.1"/>
<circle cx="146.4" cy="182.1" r="2.1"/>
<circle cx="172.0" cy="156.3" r="2.1"/>
<circle cx="168.7" cy="159.1" r="2.1"/>
<circle cx="168.5" cy="164.7" r="2.1"/>
<circle cx="173.9" cy="162.6" r="2.1"/>
<circle cx="177.9" cy="159.7" r="2.1"/>
<circle cx="179.7" cy="151.7" r="2.1"/>
<circle cx="180.8" cy="155.9" r="2.1"/>
<circle cx="179.3" cy="165.5" r="2.1"/>
<circle cx="173.9" cy="168.3" r="2.1"/>
<circle cx="192.0" cy="156.8" r="2.1"/>
<circle cx="192.0" cy="160.5" r="2.1"/>
<circle cx="188.9" cy="163.2" r="2.1"/>
<circle cx="186.6" cy="167.2" r="2.1"/>
<circle cx="193.5" cy="166.0" r="2.1"/>
<circle cx="199.7" cy="169.5" r="2.1"/>
<circle cx="201.6" cy="168.2" r="2.1"/>
<circle cx="205.6" cy="154.8" r="2.1"/>
<circle cx="204.4" cy="157.8" r="2.1"/>
<circle cx="205.9" cy="167.8" r="2.1"/>
<circle cx="208.8" cy="167.8" r="2.1"/>
<circle cx="212.8" cy="164.9" r="2.1"/>
<circle cx="214.8" cy="164.3" r="2.1"/>
<circle cx="215.1" cy="159.7" r="2.1"/>
<circle cx="222.4" cy="167.8" r="2.1"/>
<circle cx="227.8" cy="166.6" r="2.1"/>
<circle cx="229.5" cy="167.8" r="2.1"/>
</g>
<g fill="#e86cf8" stroke="#220630" stroke-width="0.95">
<circle cx="48.3" cy="252.4" r="2.1"/>
<circle cx="63.9" cy="246.0" r="2.1"/>
<circle cx="70.8" cy="254.7" r="2.1"/>
<circle cx="75.6" cy="260.3" r="2.1"/>
<circle cx="82.0" cy="252.4" r="2.1"/>
<circle cx="82.5" cy="239.4" r="2.1"/>
<circle cx="86.2" cy="242.2" r="2.1"/>
<circle cx="87.7" cy="252.4" r="2.1"/>
<circle cx="89.4" cy="249.7" r="2.1"/>
<circle cx="55.0" cy="273.9" r="2.1"/>
<circle cx="100.3" cy="235.1" r="2.1"/>
<circle cx="97.4" cy="244.0" r="2.1"/>
<circle cx="98.8" cy="250.3" r="2.1"/>
<circle cx="105.1" cy="240.9" r="2.1"/>
<circle cx="106.6" cy="247.1" r="2.1"/>
<circle cx="109.1" cy="252.0" r="2.1"/>
<circle cx="115.5" cy="245.1" r="2.1"/>
<circle cx="114.7" cy="255.5" r="2.1"/>
<circle cx="117.2" cy="252.4" r="2.1"/>
<circle cx="120.6" cy="246.6" r="2.1"/>
<circle cx="121.6" cy="259.3" r="2.1"/>
<circle cx="124.1" cy="242.8" r="2.1"/>
<circle cx="124.7" cy="241.1" r="2.1"/>
<circle cx="127.0" cy="245.5" r="2.1"/>
<circle cx="128.1" cy="239.7" r="2.1"/>
<circle cx="132.1" cy="237.1" r="2.1"/>
<circle cx="134.4" cy="241.2" r="2.1"/>
<circle cx="121.6" cy="252.0" r="2.1"/>
<circle cx="123.5" cy="254.3" r="2.1"/>
<circle cx="126.4" cy="254.7" r="2.1"/>
<circle cx="128.1" cy="260.1" r="2.1"/>
<circle cx="131.6" cy="259.5" r="2.1"/>
<circle cx="130.4" cy="257.8" r="2.1"/>
<circle cx="134.6" cy="255.1" r="2.1"/>
<circle cx="132.3" cy="267.1" r="2.1"/>
<circle cx="128.9" cy="269.4" r="2.1"/>
<circle cx="134.6" cy="270.0" r="2.1"/>
<circle cx="102.2" cy="273.9" r="2.1"/>
<circle cx="135.8" cy="243.2" r="2.1"/>
<circle cx="140.4" cy="238.6" r="2.1"/>
<circle cx="148.5" cy="233.3" r="2.1"/>
<circle cx="147.3" cy="238.6" r="2.1"/>
<circle cx="149.3" cy="242.0" r="2.1"/>
<circle cx="152.1" cy="240.2" r="2.1"/>
<circle cx="152.4" cy="247.4" r="2.1"/>
<circle cx="142.9" cy="245.7" r="2.1"/>
<circle cx="145.8" cy="244.3" r="2.1"/>
<circle cx="141.6" cy="249.1" r="2.1"/>
<circle cx="140.1" cy="252.4" r="2.1"/>
<circle cx="143.5" cy="252.4" r="2.1"/>
<circle cx="146.4" cy="254.7" r="2.1"/>
<circle cx="149.6" cy="255.8" r="2.1"/>
<circle cx="151.0" cy="256.6" r="2.1"/>
<circle cx="149.8" cy="259.3" r="2.1"/>
<circle cx="142.4" cy="262.4" r="2.1"/>
<circle cx="147.0" cy="265.0" r="2.1"/>
<circle cx="155.0" cy="263.5" r="2.1"/>
<circle cx="160.8" cy="258.9" r="2.1"/>
<circle cx="164.6" cy="262.4" r="2.1"/>
<circle cx="149.3" cy="268.7" r="2.1"/>
<circle cx="152.1" cy="268.4" r="2.1"/>
<circle cx="156.7" cy="244.3" r="2.1"/>
<circle cx="160.2" cy="238.6" r="2.1"/>
<circle cx="159.6" cy="245.1" r="2.1"/>
<circle cx="161.3" cy="247.4" r="2.1"/>
<circle cx="160.2" cy="250.3" r="2.1"/>
<circle cx="161.9" cy="249.7" r="2.1"/>
<circle cx="160.8" cy="253.2" r="2.1"/>
<circle cx="165.0" cy="235.6" r="2.1"/>
<circle cx="166.1" cy="239.4" r="2.1"/>
<circle cx="165.8" cy="243.5" r="2.1"/>
<circle cx="169.0" cy="236.3" r="2.1"/>
<circle cx="168.7" cy="244.8" r="2.1"/>
<circle cx="172.0" cy="243.4" r="2.1"/>
<circle cx="174.5" cy="246.3" r="2.1"/>
<circle cx="181.2" cy="239.7" r="2.1"/>
<circle cx="180.8" cy="244.5" r="2.1"/>
<circle cx="179.3" cy="248.6" r="2.1"/>
<circle cx="178.2" cy="253.2" r="2.1"/>
<circle cx="174.5" cy="257.8" r="2.1"/>
<circle cx="186.6" cy="246.3" r="2.1"/>
<circle cx="188.9" cy="250.3" r="2.1"/>
<circle cx="193.5" cy="252.4" r="2.1"/>
<circle cx="192.3" cy="239.0" r="2.1"/>
<circle cx="192.7" cy="244.8" r="2.1"/>
<circle cx="199.6" cy="254.0" r="2.1"/>
<circle cx="201.4" cy="249.2" r="2.1"/>
<circle cx="204.8" cy="246.9" r="2.1"/>
<circle cx="206.4" cy="251.4" r="2.1"/>
<circle cx="208.4" cy="252.7" r="2.1"/>
<circle cx="212.1" cy="242.1" r="2.1"/>
<circle cx="215.2" cy="244.1" r="2.1"/>
<circle cx="214.4" cy="249.8" r="2.1"/>
<circle cx="222.4" cy="255.2" r="2.1"/>
<circle cx="227.6" cy="255.2" r="2.1"/>
<circle cx="229.6" cy="244.9" r="2.1"/>
<circle cx="228.6" cy="249.8" r="2.1"/>
</g>
<g fill="#b0840f" stroke="#140c02" stroke-width="0.95">
<circle cx="49.2" cy="335.5" r="2.1"/>
<circle cx="56.1" cy="362.5" r="2.1"/>
<circle cx="65.1" cy="344.5" r="2.1"/>
<circle cx="72.0" cy="343.6" r="2.1"/>
<circle cx="77.1" cy="346.8" r="2.1"/>
<circle cx="82.8" cy="341.8" r="2.1"/>
<circle cx="83.4" cy="329.8" r="2.1"/>
<circle cx="88.7" cy="327.8" r="2.1"/>
<circle cx="87.1" cy="334.7" r="2.1"/>
<circle cx="90.5" cy="341.8" r="2.1"/>
<circle cx="101.7" cy="327.1" r="2.1"/>
<circle cx="97.9" cy="332.9" r="2.1"/>
<circle cx="99.7" cy="335.2" r="2.1"/>
<circle cx="107.8" cy="334.0" r="2.1"/>
<circle cx="110.5" cy="338.2" r="2.1"/>
<circle cx="105.5" cy="341.6" r="2.1"/>
<circle cx="103.4" cy="353.1" r="2.1"/>
<circle cx="115.8" cy="343.9" r="2.1"/>
<circle cx="116.6" cy="336.1" r="2.1"/>
<circle cx="118.6" cy="336.3" r="2.1"/>
<circle cx="122.4" cy="332.1" r="2.1"/>
<circle cx="121.6" cy="334.9" r="2.1"/>
<circle cx="125.0" cy="334.4" r="2.1"/>
<circle cx="127.8" cy="330.1" r="2.1"/>
<circle cx="129.6" cy="332.6" r="2.1"/>
<circle cx="127.0" cy="340.5" r="2.1"/>
<circle cx="121.9" cy="346.2" r="2.1"/>
<circle cx="124.8" cy="348.3" r="2.1"/>
<circle cx="129.0" cy="351.0" r="2.1"/>
<circle cx="130.5" cy="348.5" r="2.1"/>
<circle cx="133.0" cy="350.0" r="2.1"/>
<circle cx="132.0" cy="353.5" r="2.1"/>
<circle cx="136.7" cy="352.3" r="2.1"/>
<circle cx="122.4" cy="356.3" r="2.1"/>
<circle cx="133.2" cy="325.2" r="2.1"/>
<circle cx="134.6" cy="330.7" r="2.1"/>
<circle cx="133.3" cy="338.8" r="2.1"/>
<circle cx="136.6" cy="336.2" r="2.1"/>
<circle cx="141.6" cy="330.1" r="2.1"/>
<circle cx="142.7" cy="332.4" r="2.1"/>
<circle cx="145.5" cy="333.5" r="2.1"/>
<circle cx="143.5" cy="336.2" r="2.1"/>
<circle cx="141.2" cy="338.7" r="2.1"/>
<circle cx="142.9" cy="342.4" r="2.1"/>
<circle cx="148.9" cy="325.1" r="2.1"/>
<circle cx="151.6" cy="328.1" r="2.1"/>
<circle cx="148.5" cy="332.0" r="2.1"/>
<circle cx="153.9" cy="331.8" r="2.1"/>
<circle cx="148.1" cy="337.0" r="2.1"/>
<circle cx="151.6" cy="336.4" r="2.1"/>
<circle cx="152.4" cy="340.4" r="2.1"/>
<circle cx="148.5" cy="339.3" r="2.1"/>
<circle cx="152.7" cy="344.7" r="2.1"/>
<circle cx="150.4" cy="349.3" r="2.1"/>
<circle cx="155.6" cy="354.6" r="2.1"/>
<circle cx="150.4" cy="367.4" r="2.1"/>
<circle cx="135.9" cy="373.8" r="2.1"/>
<circle cx="160.8" cy="332.7" r="2.1"/>
<circle cx="158.1" cy="336.2" r="2.1"/>
<circle cx="161.3" cy="338.1" r="2.1"/>
<circle cx="161.6" cy="341.3" r="2.1"/>
<circle cx="165.6" cy="326.6" r="2.1"/>
<circle cx="165.9" cy="331.2" r="2.1"/>
<circle cx="166.5" cy="334.2" r="2.1"/>
<circle cx="164.9" cy="357.7" r="2.1"/>
<circle cx="169.3" cy="328.6" r="2.1"/>
<circle cx="167.6" cy="330.9" r="2.1"/>
<circle cx="169.3" cy="332.9" r="2.1"/>
<circle cx="173.1" cy="336.2" r="2.1"/>
<circle cx="175.6" cy="337.3" r="2.1"/>
<circle cx="180.8" cy="332.7" r="2.1"/>
<circle cx="182.3" cy="332.0" r="2.1"/>
<circle cx="180.0" cy="334.3" r="2.1"/>
<circle cx="182.0" cy="339.3" r="2.1"/>
<circle cx="187.1" cy="334.1" r="2.1"/>
<circle cx="192.7" cy="329.7" r="2.1"/>
<circle cx="193.1" cy="336.4" r="2.1"/>
<circle cx="189.7" cy="339.8" r="2.1"/>
<circle cx="194.9" cy="341.5" r="2.1"/>
<circle cx="200.0" cy="339.7" r="2.1"/>
<circle cx="202.2" cy="339.2" r="2.1"/>
<circle cx="179.7" cy="346.2" r="2.1"/>
<circle cx="178.2" cy="347.7" r="2.1"/>
<circle cx="175.1" cy="350.8" r="2.1"/>
<circle cx="205.3" cy="342.3" r="2.1"/>
<circle cx="209.0" cy="342.0" r="2.1"/>
<circle cx="213.1" cy="329.9" r="2.1"/>
<circle cx="215.7" cy="336.1" r="2.1"/>
<circle cx="215.2" cy="339.7" r="2.1"/>
<circle cx="222.9" cy="342.3" r="2.1"/>
<circle cx="229.6" cy="327.8" r="2.1"/>
<circle cx="229.3" cy="340.2" r="2.1"/>
<circle cx="227.9" cy="346.1" r="2.1"/>
</g>
<g fill="#14c4fa" stroke="#061a30" stroke-width="0.95">
<circle cx="273.2" cy="70.5" r="2.1"/>
<circle cx="276.3" cy="74.7" r="2.1"/>
<circle cx="280.9" cy="72.2" r="2.1"/>
<circle cx="281.5" cy="75.8" r="2.1"/>
<circle cx="286.4" cy="72.9" r="2.1"/>
<circle cx="290.7" cy="69.7" r="2.1"/>
<circle cx="290.9" cy="59.7" r="2.1"/>
<circle cx="295.3" cy="75.1" r="2.1"/>
<circle cx="296.4" cy="69.5" r="2.1"/>
<circle cx="297.6" cy="55.9" r="2.1"/>
<circle cx="297.6" cy="60.3" r="2.1"/>
<circle cx="300.8" cy="62.8" r="2.1"/>
<circle cx="299.7" cy="66.3" r="2.1"/>
<circle cx="302.8" cy="65.1" r="2.1"/>
<circle cx="303.9" cy="68.0" r="2.1"/>
<circle cx="304.5" cy="70.5" r="2.1"/>
<circle cx="306.8" cy="73.7" r="2.1"/>
<circle cx="305.4" cy="59.7" r="2.1"/>
<circle cx="308.9" cy="51.7" r="2.1"/>
<circle cx="310.8" cy="57.6" r="2.1"/>
<circle cx="314.3" cy="56.5" r="2.1"/>
<circle cx="314.8" cy="59.9" r="2.1"/>
<circle cx="316.6" cy="63.4" r="2.1"/>
<circle cx="317.1" cy="67.4" r="2.1"/>
<circle cx="318.9" cy="65.1" r="2.1"/>
<circle cx="320.7" cy="65.7" r="2.1"/>
<circle cx="323.0" cy="61.1" r="2.1"/>
<circle cx="321.9" cy="69.7" r="2.1"/>
<circle cx="324.8" cy="71.4" r="2.1"/>
<circle cx="326.5" cy="64.0" r="2.1"/>
<circle cx="328.8" cy="68.6" r="2.1"/>
<circle cx="328.2" cy="70.9" r="2.1"/>
<circle cx="331.7" cy="57.1" r="2.1"/>
<circle cx="332.2" cy="67.4" r="2.1"/>
<circle cx="334.5" cy="62.8" r="2.1"/>
<circle cx="334.8" cy="65.7" r="2.1"/>
<circle cx="335.5" cy="70.3" r="2.1"/>
<circle cx="327.1" cy="77.2" r="2.1"/>
<circle cx="332.2" cy="79.3" r="2.1"/>
<circle cx="342.6" cy="66.8" r="2.1"/>
<circle cx="344.9" cy="62.8" r="2.1"/>
<circle cx="345.5" cy="65.7" r="2.1"/>
<circle cx="344.9" cy="69.7" r="2.1"/>
<circle cx="348.9" cy="65.7" r="2.1"/>
<circle cx="352.0" cy="62.2" r="2.1"/>
<circle cx="352.9" cy="68.6" r="2.1"/>
<circle cx="355.8" cy="67.4" r="2.1"/>
<circle cx="358.7" cy="64.5" r="2.1"/>
<circle cx="360.4" cy="75.5" r="2.1"/>
<circle cx="360.2" cy="78.9" r="2.1"/>
<circle cx="370.9" cy="65.1" r="2.1"/>
<circle cx="376.3" cy="63.6" r="2.1"/>
<circle cx="371.5" cy="68.9" r="2.1"/>
<circle cx="376.7" cy="71.2" r="2.1"/>
<circle cx="374.9" cy="73.2" r="2.1"/>
<circle cx="377.8" cy="74.3" r="2.1"/>
<circle cx="370.3" cy="76.0" r="2.1"/>
<circle cx="380.1" cy="77.2" r="2.1"/>
<circle cx="383.6" cy="75.1" r="2.1"/>
<circle cx="376.1" cy="80.1" r="2.1"/>
<circle cx="392.2" cy="59.9" r="2.1"/>
<circle cx="392.2" cy="68.9" r="2.1"/>
<circle cx="395.6" cy="69.7" r="2.1"/>
<circle cx="396.2" cy="77.4" r="2.1"/>
<circle cx="398.5" cy="78.6" r="2.1"/>
<circle cx="403.7" cy="80.1" r="2.1"/>
<circle cx="407.4" cy="70.8" r="2.1"/>
<circle cx="410.6" cy="72.7" r="2.1"/>
<circle cx="435.1" cy="63.9" r="2.1"/>
<circle cx="448.9" cy="78.2" r="2.1"/>
<circle cx="454.8" cy="84.8" r="2.1"/>
</g>
<g fill="#a8ee88" stroke="#141c10" stroke-width="0.95">
<circle cx="273.2" cy="166.2" r="2.1"/>
<circle cx="276.3" cy="174.5" r="2.1"/>
<circle cx="280.9" cy="174.3" r="2.1"/>
<circle cx="281.5" cy="176.8" r="2.1"/>
<circle cx="286.4" cy="166.4" r="2.1"/>
<circle cx="290.9" cy="153.6" r="2.1"/>
<circle cx="290.5" cy="169.3" r="2.1"/>
<circle cx="291.8" cy="167.0" r="2.1"/>
<circle cx="295.3" cy="172.5" r="2.1"/>
<circle cx="296.4" cy="164.4" r="2.1"/>
<circle cx="297.6" cy="167.0" r="2.1"/>
<circle cx="297.4" cy="147.5" r="2.1"/>
<circle cx="297.4" cy="149.0" r="2.1"/>
<circle cx="297.0" cy="151.5" r="2.1"/>
<circle cx="299.3" cy="156.1" r="2.1"/>
<circle cx="301.0" cy="159.0" r="2.1"/>
<circle cx="302.0" cy="164.1" r="2.1"/>
<circle cx="304.3" cy="149.0" r="2.1"/>
<circle cx="305.6" cy="150.9" r="2.1"/>
<circle cx="303.9" cy="154.4" r="2.1"/>
<circle cx="303.9" cy="157.2" r="2.1"/>
<circle cx="306.8" cy="171.8" r="2.1"/>
<circle cx="308.9" cy="144.4" r="2.1"/>
<circle cx="310.8" cy="147.1" r="2.1"/>
<circle cx="314.3" cy="149.0" r="2.1"/>
<circle cx="315.2" cy="154.0" r="2.1"/>
<circle cx="314.3" cy="158.6" r="2.1"/>
<circle cx="317.4" cy="160.9" r="2.1"/>
<circle cx="317.7" cy="164.7" r="2.1"/>
<circle cx="319.4" cy="153.2" r="2.1"/>
<circle cx="321.3" cy="153.6" r="2.1"/>
<circle cx="323.0" cy="157.8" r="2.1"/>
<circle cx="323.0" cy="161.3" r="2.1"/>
<circle cx="321.3" cy="164.7" r="2.1"/>
<circle cx="324.8" cy="166.4" r="2.1"/>
<circle cx="327.6" cy="164.1" r="2.1"/>
<circle cx="328.8" cy="168.2" r="2.1"/>
<circle cx="331.1" cy="164.1" r="2.1"/>
<circle cx="331.7" cy="167.0" r="2.1"/>
<circle cx="331.7" cy="151.5" r="2.1"/>
<circle cx="334.8" cy="158.4" r="2.1"/>
<circle cx="335.1" cy="162.4" r="2.1"/>
<circle cx="335.1" cy="172.8" r="2.1"/>
<circle cx="327.4" cy="176.8" r="2.1"/>
<circle cx="332.2" cy="180.8" r="2.1"/>
<circle cx="342.6" cy="156.7" r="2.1"/>
<circle cx="345.5" cy="154.4" r="2.1"/>
<circle cx="348.3" cy="155.5" r="2.1"/>
<circle cx="344.3" cy="158.4" r="2.1"/>
<circle cx="352.7" cy="155.9" r="2.1"/>
<circle cx="357.0" cy="159.5" r="2.1"/>
<circle cx="358.7" cy="161.3" r="2.1"/>
<circle cx="344.9" cy="167.0" r="2.1"/>
<circle cx="347.2" cy="163.6" r="2.1"/>
<circle cx="348.9" cy="165.9" r="2.1"/>
<circle cx="352.9" cy="167.0" r="2.1"/>
<circle cx="355.2" cy="170.5" r="2.1"/>
<circle cx="359.8" cy="176.6" r="2.1"/>
<circle cx="359.8" cy="180.8" r="2.1"/>
<circle cx="376.3" cy="161.3" r="2.1"/>
<circle cx="370.5" cy="164.4" r="2.1"/>
<circle cx="371.7" cy="168.7" r="2.1"/>
<circle cx="376.8" cy="169.7" r="2.1"/>
<circle cx="378.6" cy="173.6" r="2.1"/>
<circle cx="371.1" cy="174.3" r="2.1"/>
<circle cx="375.1" cy="176.2" r="2.1"/>
<circle cx="379.7" cy="177.9" r="2.1"/>
<circle cx="383.2" cy="178.2" r="2.1"/>
<circle cx="369.9" cy="179.7" r="2.1"/>
<circle cx="375.7" cy="179.7" r="2.1"/>
<circle cx="391.8" cy="155.5" r="2.1"/>
<circle cx="392.0" cy="171.0" r="2.1"/>
<circle cx="395.8" cy="173.1" r="2.1"/>
<circle cx="398.4" cy="179.7" r="2.1"/>
<circle cx="396.4" cy="185.1" r="2.1"/>
<circle cx="403.9" cy="184.3" r="2.1"/>
<circle cx="407.4" cy="175.4" r="2.1"/>
<circle cx="411.1" cy="171.7" r="2.1"/>
<circle cx="435.1" cy="165.8" r="2.1"/>
<circle cx="448.9" cy="176.1" r="2.1"/>
<circle cx="455.3" cy="190.8" r="2.1"/>
</g>
<g fill="#e86cf8" stroke="#220630" stroke-width="0.95">
<circle cx="273.2" cy="242.8" r="2.1"/>
<circle cx="276.9" cy="242.2" r="2.1"/>
<circle cx="273.4" cy="250.9" r="2.1"/>
<circle cx="281.3" cy="251.2" r="2.1"/>
<circle cx="282.1" cy="254.7" r="2.1"/>
<circle cx="286.7" cy="251.4" r="2.1"/>
<circle cx="291.3" cy="238.8" r="2.1"/>
<circle cx="292.1" cy="248.2" r="2.1"/>
<circle cx="290.7" cy="268.1" r="2.1"/>
<circle cx="297.6" cy="237.1" r="2.1"/>
<circle cx="297.0" cy="241.1" r="2.1"/>
<circle cx="299.7" cy="243.4" r="2.1"/>
<circle cx="295.9" cy="251.4" r="2.1"/>
<circle cx="298.2" cy="249.1" r="2.1"/>
<circle cx="301.6" cy="255.1" r="2.1"/>
<circle cx="296.7" cy="258.6" r="2.1"/>
<circle cx="302.8" cy="262.4" r="2.1"/>
<circle cx="304.5" cy="246.3" r="2.1"/>
<circle cx="305.9" cy="247.4" r="2.1"/>
<circle cx="303.9" cy="250.9" r="2.1"/>
<circle cx="307.4" cy="269.3" r="2.1"/>
<circle cx="311.4" cy="232.5" r="2.1"/>
<circle cx="309.3" cy="238.8" r="2.1"/>
<circle cx="314.8" cy="237.6" r="2.1"/>
<circle cx="315.4" cy="244.5" r="2.1"/>
<circle cx="317.7" cy="242.8" r="2.1"/>
<circle cx="314.3" cy="252.6" r="2.1"/>
<circle cx="317.7" cy="251.4" r="2.1"/>
<circle cx="317.1" cy="257.4" r="2.1"/>
<circle cx="321.7" cy="239.4" r="2.1"/>
<circle cx="320.7" cy="245.7" r="2.1"/>
<circle cx="323.6" cy="244.3" r="2.1"/>
<circle cx="322.1" cy="249.1" r="2.1"/>
<circle cx="327.4" cy="243.2" r="2.1"/>
<circle cx="329.4" cy="245.7" r="2.1"/>
<circle cx="331.7" cy="241.7" r="2.1"/>
<circle cx="334.8" cy="243.2" r="2.1"/>
<circle cx="328.8" cy="248.9" r="2.1"/>
<circle cx="334.8" cy="249.1" r="2.1"/>
<circle cx="328.6" cy="252.8" r="2.1"/>
<circle cx="332.2" cy="253.7" r="2.1"/>
<circle cx="327.9" cy="262.9" r="2.1"/>
<circle cx="335.7" cy="261.8" r="2.1"/>
<circle cx="345.1" cy="234.4" r="2.1"/>
<circle cx="348.9" cy="237.4" r="2.1"/>
<circle cx="343.7" cy="238.8" r="2.1"/>
<circle cx="346.0" cy="243.4" r="2.1"/>
<circle cx="348.9" cy="245.7" r="2.1"/>
<circle cx="345.1" cy="247.4" r="2.1"/>
<circle cx="347.8" cy="249.4" r="2.1"/>
<circle cx="352.9" cy="244.0" r="2.1"/>
<circle cx="355.8" cy="245.7" r="2.1"/>
<circle cx="360.7" cy="244.5" r="2.1"/>
<circle cx="357.5" cy="252.6" r="2.1"/>
<circle cx="360.4" cy="266.6" r="2.1"/>
<circle cx="370.8" cy="236.1" r="2.1"/>
<circle cx="375.5" cy="241.1" r="2.1"/>
<circle cx="378.7" cy="244.1" r="2.1"/>
<circle cx="371.4" cy="246.0" r="2.1"/>
<circle cx="375.6" cy="247.7" r="2.1"/>
<circle cx="376.7" cy="250.2" r="2.1"/>
<circle cx="371.9" cy="252.6" r="2.1"/>
<circle cx="372.5" cy="254.0" r="2.1"/>
<circle cx="377.3" cy="254.6" r="2.1"/>
<circle cx="380.7" cy="255.7" r="2.1"/>
<circle cx="370.0" cy="258.2" r="2.1"/>
<circle cx="383.5" cy="260.7" r="2.1"/>
<circle cx="395.7" cy="239.7" r="2.1"/>
<circle cx="391.9" cy="245.6" r="2.1"/>
<circle cx="396.1" cy="245.2" r="2.1"/>
<circle cx="391.9" cy="249.2" r="2.1"/>
<circle cx="398.9" cy="250.6" r="2.1"/>
<circle cx="411.0" cy="251.3" r="2.1"/>
<circle cx="407.5" cy="257.1" r="2.1"/>
<circle cx="404.0" cy="273.3" r="2.1"/>
<circle cx="435.3" cy="233.9" r="2.1"/>
<circle cx="455.0" cy="240.8" r="2.1"/>
<circle cx="449.2" cy="249.6" r="2.1"/>
</g>
<g fill="#b0840f" stroke="#140c02" stroke-width="0.95">
<circle cx="273.4" cy="334.0" r="2.1"/>
<circle cx="277.1" cy="334.9" r="2.1"/>
<circle cx="274.0" cy="339.5" r="2.1"/>
<circle cx="282.1" cy="337.0" r="2.1"/>
<circle cx="282.6" cy="345.1" r="2.1"/>
<circle cx="286.7" cy="333.6" r="2.1"/>
<circle cx="292.1" cy="333.6" r="2.1"/>
<circle cx="291.8" cy="340.5" r="2.1"/>
<circle cx="291.3" cy="368.0" r="2.1"/>
<circle cx="298.5" cy="331.7" r="2.1"/>
<circle cx="297.8" cy="333.8" r="2.1"/>
<circle cx="296.4" cy="337.2" r="2.1"/>
<circle cx="300.1" cy="337.8" r="2.1"/>
<circle cx="298.2" cy="343.2" r="2.1"/>
<circle cx="298.2" cy="347.4" r="2.1"/>
<circle cx="297.4" cy="351.3" r="2.1"/>
<circle cx="301.6" cy="350.5" r="2.1"/>
<circle cx="303.1" cy="358.9" r="2.1"/>
<circle cx="304.5" cy="328.6" r="2.1"/>
<circle cx="306.2" cy="335.2" r="2.1"/>
<circle cx="305.4" cy="343.0" r="2.1"/>
<circle cx="309.7" cy="331.5" r="2.1"/>
<circle cx="311.6" cy="326.0" r="2.1"/>
<circle cx="314.8" cy="332.9" r="2.1"/>
<circle cx="317.5" cy="334.6" r="2.1"/>
<circle cx="318.3" cy="342.4" r="2.1"/>
<circle cx="314.8" cy="347.6" r="2.1"/>
<circle cx="317.1" cy="352.2" r="2.1"/>
<circle cx="325.3" cy="328.6" r="2.1"/>
<circle cx="321.7" cy="332.9" r="2.1"/>
<circle cx="324.2" cy="335.5" r="2.1"/>
<circle cx="327.6" cy="333.6" r="2.1"/>
<circle cx="332.0" cy="330.9" r="2.1"/>
<circle cx="329.4" cy="335.5" r="2.1"/>
<circle cx="331.7" cy="337.2" r="2.1"/>
<circle cx="335.5" cy="337.0" r="2.1"/>
<circle cx="320.7" cy="340.1" r="2.1"/>
<circle cx="322.5" cy="341.6" r="2.1"/>
<circle cx="329.4" cy="340.7" r="2.1"/>
<circle cx="332.2" cy="342.1" r="2.1"/>
<circle cx="335.1" cy="340.5" r="2.1"/>
<circle cx="336.3" cy="343.6" r="2.1"/>
<circle cx="328.6" cy="355.6" r="2.1"/>
<circle cx="345.8" cy="327.1" r="2.1"/>
<circle cx="345.1" cy="330.1" r="2.1"/>
<circle cx="343.7" cy="333.2" r="2.1"/>
<circle cx="349.5" cy="333.6" r="2.1"/>
<circle cx="349.5" cy="336.1" r="2.1"/>
<circle cx="352.9" cy="331.5" r="2.1"/>
<circle cx="357.5" cy="331.5" r="2.1"/>
<circle cx="360.7" cy="331.3" r="2.1"/>
<circle cx="354.1" cy="338.2" r="2.1"/>
<circle cx="357.0" cy="338.4" r="2.1"/>
<circle cx="361.0" cy="339.0" r="2.1"/>
<circle cx="358.7" cy="343.0" r="2.1"/>
<circle cx="345.1" cy="340.5" r="2.1"/>
<circle cx="347.8" cy="341.3" r="2.1"/>
<circle cx="371.6" cy="326.1" r="2.1"/>
<circle cx="375.8" cy="333.5" r="2.1"/>
<circle cx="372.1" cy="335.8" r="2.1"/>
<circle cx="378.9" cy="337.1" r="2.1"/>
<circle cx="376.3" cy="337.8" r="2.1"/>
<circle cx="370.5" cy="339.0" r="2.1"/>
<circle cx="372.1" cy="342.1" r="2.1"/>
<circle cx="376.8" cy="341.6" r="2.1"/>
<circle cx="375.3" cy="343.7" r="2.1"/>
<circle cx="381.1" cy="342.1" r="2.1"/>
<circle cx="372.6" cy="352.8" r="2.1"/>
<circle cx="383.7" cy="350.3" r="2.1"/>
<circle cx="392.4" cy="336.6" r="2.1"/>
<circle cx="399.5" cy="339.2" r="2.1"/>
<circle cx="396.3" cy="342.3" r="2.1"/>
<circle cx="396.8" cy="345.5" r="2.1"/>
<circle cx="392.6" cy="347.2" r="2.1"/>
<circle cx="404.7" cy="354.2" r="2.1"/>
<circle cx="407.9" cy="353.5" r="2.1"/>
<circle cx="411.2" cy="336.5" r="2.1"/>
<circle cx="436.1" cy="328.5" r="2.1"/>
<circle cx="449.4" cy="335.7" r="2.1"/>
<circle cx="455.5" cy="335.7" r="2.1"/>
<circle cx="307.4" cy="374.1" r="2.1"/>
</g>
</svg></body></html>
